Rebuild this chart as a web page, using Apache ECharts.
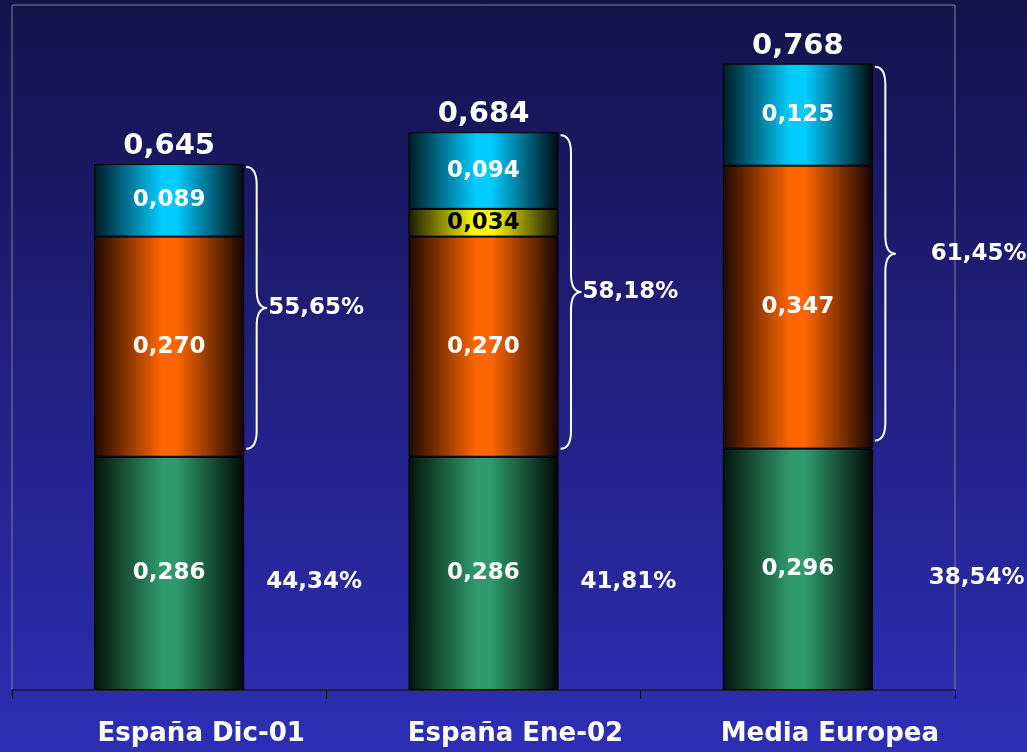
<!DOCTYPE html>
<html>
<head>
<meta charset="utf-8">
<title>Precio medio</title>
<script src="https://cdn.jsdelivr.net/npm/echarts@6/dist/echarts.min.js"></script>
<style>
  html, body { margin: 0; padding: 0; }
  #grafico { width: 1027px; height: 752px; }
</style>
</head>
<body>
<div id="grafico"></div>
<script>
// datos
var categorias = ['España Dic-01', 'España Ene-02', 'Media Europea']
var verde = [0.286, 0.286, 0.296]
var naranja = [0.270, 0.270, 0.347]
var amarillo = [null, 0.034, null]
var azul = [0.089, 0.094, 0.125]
var totales = [0.645, 0.684, 0.768]
var pctArriba = ['55,65%', '58,18%', '61,45%']
var pctAbajo = ['44,34%', '41,81%', '38,54%']

var FUENTE = '"DejaVu Sans", Verdana, sans-serif'

function cilindro(claro, oscuroIzq, oscuroDer) {
  return new echarts.graphic.LinearGradient(0, 0, 1, 0, [
    { offset: 0, color: oscuroIzq },
    { offset: 0.45, color: claro },
    { offset: 0.55, color: claro },
    { offset: 1, color: oscuroDer }
  ])
}

function coma(v) {
  return v.toFixed(3).replace('.', ',')
}

function serieBarra(nombre, datos, color, colorTexto) {
  return {
    name: nombre,
    type: 'bar',
    stack: 'total',
    barWidth: 150,
    data: datos,
    itemStyle: { color: color, borderColor: '#000', borderWidth: 1 },
    label: {
      show: true,
      position: 'inside',
      color: colorTexto,
      fontFamily: FUENTE,
      fontWeight: 'bold',
      fontSize: 23,
      formatter: function (p) { return coma(p.value) }
    }
  }
}

var chart = echarts.init(document.getElementById('grafico'))

chart.setOption({
  animation: false,
  backgroundColor: new echarts.graphic.LinearGradient(0, 0, 0, 1, [
    { offset: 0, color: '#14124a' },
    { offset: 1, color: '#2e2eb6' }
  ]),
  grid: {
    left: 12, right: 72, top: 5, bottom: 62,
    show: true, borderColor: '#7f7f9a', borderWidth: 1
  },
  xAxis: {
    type: 'category',
    data: categorias,
    axisLine: { lineStyle: { color: '#111', width: 1.5 } },
    axisTick: { show: true, length: 9, lineStyle: { color: '#111' } },
    axisLabel: {
      color: '#fff', fontFamily: FUENTE, fontWeight: 'bold',
      fontSize: 26, margin: 31, padding: [0, 0, 0, 64]
    }
  },
  yAxis: {
    type: 'value', min: 0, max: 0.84, show: false,
    splitLine: { show: false }
  },
  series: [
    serieBarra('verde', verde, cilindro('#2f9a6c', '#04140c', '#020806'), '#fff'),
    serieBarra('naranja', naranja, cilindro('#ff6600', '#1c0800', '#140400'), '#fff'),
    serieBarra('amarillo', amarillo, cilindro('#ffff00', '#1a1a00', '#121200'), '#000'),
    serieBarra('azul', azul, cilindro('#00ccff', '#001a24', '#000a10'), '#fff'),
    {
      // llaves, totales y porcentajes
      type: 'custom',
      clip: false,
      silent: true,
      data: totales.map(function (t, i) { return [i, t] }),
      encode: { x: 0, y: 1 },
      renderItem: function (params, api) {
        var i = api.value(0)
        var arriba = api.coord([i, api.value(1)])
        var base = api.coord([i, verde[i]])
        var fondo = api.coord([i, 0])
        var cx = arriba[0]
        var x0 = cx + 77
        var w = 21
        var xm = x0 + w / 2
        var xt = x0 + w
        var yTop = arriba[1] + 3
        var yBot = base[1] - 8
        var yMid = (yTop + yBot) / 2
        var r = 18
        var extra = i === 2 ? 34 : 0
        var camino = 'M' + x0 + ' ' + yTop +
          ' Q' + xm + ' ' + yTop + ' ' + xm + ' ' + (yTop + r) +
          ' L' + xm + ' ' + (yMid - r) +
          ' Q' + xm + ' ' + yMid + ' ' + xt + ' ' + yMid +
          ' Q' + xm + ' ' + yMid + ' ' + xm + ' ' + (yMid + r) +
          ' L' + xm + ' ' + (yBot - r) +
          ' Q' + xm + ' ' + yBot + ' ' + x0 + ' ' + yBot
        return {
          type: 'group',
          children: [
            {
              type: 'path',
              shape: { pathData: camino },
              style: { fill: 'none', stroke: '#fff', lineWidth: 2 }
            },
            {
              type: 'text',
              style: {
                text: coma(api.value(1)), x: cx, y: arriba[1] - 3,
                align: 'center', verticalAlign: 'bottom',
                fill: '#fff', fontFamily: FUENTE, fontWeight: 'bold', fontSize: 29
              }
            },
            {
              type: 'text',
              style: {
                text: pctArriba[i], x: xt + 1 + extra, y: yMid,
                align: 'left', verticalAlign: 'middle',
                fill: '#fff', fontFamily: FUENTE, fontWeight: 'bold', fontSize: 23
              }
            },
            {
              type: 'text',
              style: {
                text: pctAbajo[i], x: xt - 1 + extra, y: (base[1] + fondo[1]) / 2 + 9,
                align: 'left', verticalAlign: 'middle',
                fill: '#fff', fontFamily: FUENTE, fontWeight: 'bold', fontSize: 23
              }
            }
          ]
        }
      }
    }
  ]
})
</script>
</body>
</html>
